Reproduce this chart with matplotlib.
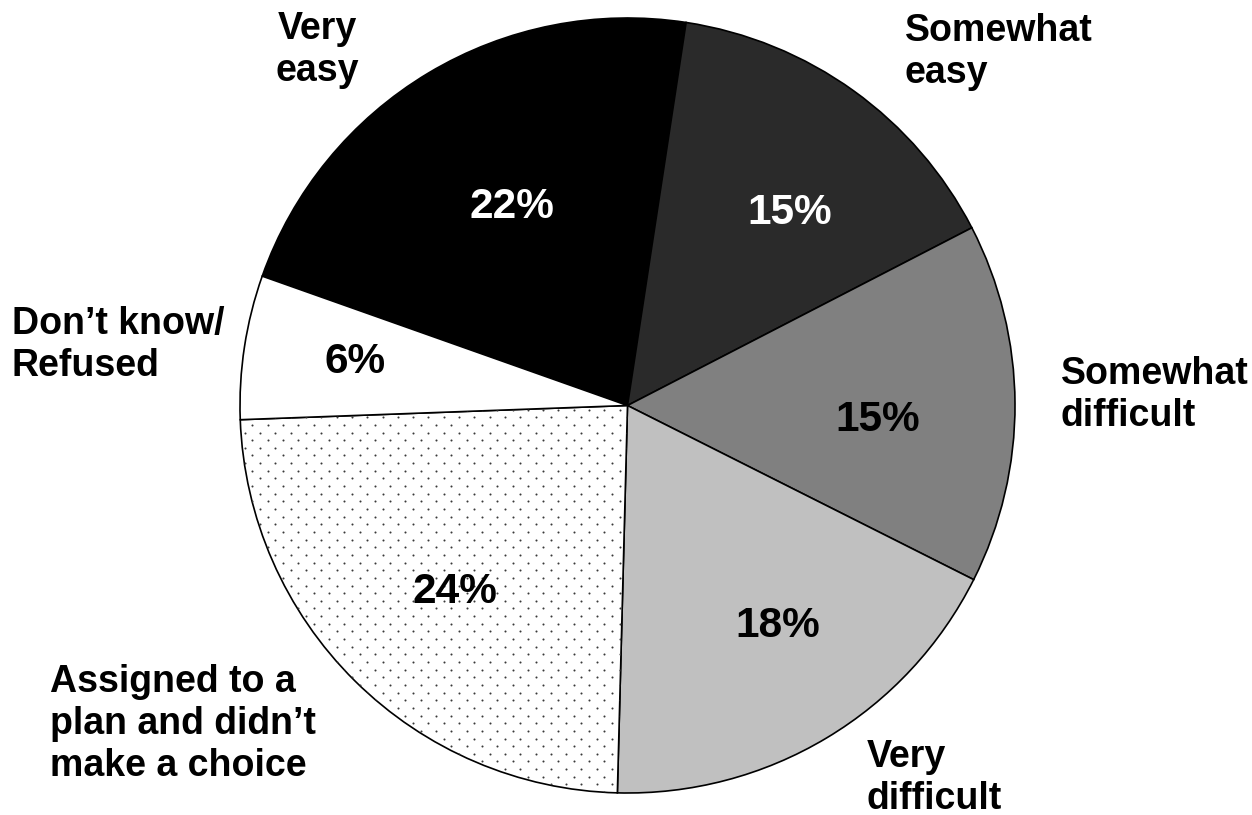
import matplotlib
matplotlib.use("Agg")
import matplotlib.pyplot as plt
import numpy as np

# values, clockwise from the "Very easy" slice
categories = ["Very\neasy", "Somewhat\neasy", "Somewhat\ndifficult", "Very\ndifficult",
              "Assigned to a\nplan and didn\u2019t\nmake a choice", "Don\u2019t know/\nRefused"]
shares = [22, 15, 15, 18, 24, 6]
pct_labels = ["22%", "15%", "15%", "18%", "24%", "6%"]

fills = ["#000000", "#2a2a2a", "#808080", "#c0c0c0", "#ffffff", "#ffffff"]
dotted = [False, False, False, False, True, False]
pct_colors = ["white", "white", "black", "black", "black", "black"]

# label placement in pixels (x, y from top), alignment
cat_pos = [(317, 50, "center"), (905, 52, "left"), (1061, 395, "left"),
           (867, 778, "left"), (50, 724, "left"), (12, 345, "left")]
pct_pos = [(512, 207), (790, 213), (878, 420), (778, 626), (455, 592), (355, 362)]

W, H = 1252, 815
plt.rcParams["font.family"] = ["Liberation Sans", "DejaVu Sans"]

fig = plt.figure(figsize=(W / 100, H / 100), dpi=100)
ax = fig.add_axes([0, 0, 1, 1])

wedges, _ = ax.pie(shares, colors=fills, startangle=160.5, counterclock=False,
                   center=(627.5, H - 405.5), radius=387.5, frame=True,
                   wedgeprops=dict(edgecolor="black", linewidth=1.2))
ax.set_xlim(0, W)
ax.set_ylim(0, H)
ax.axis("off")

# sparse dot texture (staggered grid), clipped to the wedge
step = 15.3
gx, gy = np.meshgrid(np.arange(0, W, step), np.arange(0, H, step / 2))
gx = gx + (np.arange(gy.shape[0])[:, None] % 2) * step / 2
for w, d in zip(wedges, dotted):
    if d:
        dots = ax.scatter(gx.ravel(), gy.ravel(), s=2.2, color="#3a3a3a",
                          linewidths=0, zorder=w.get_zorder() + 0.1)
        dots.set_clip_path(w)

for lab, (x, y, ha) in zip(categories, cat_pos):
    ax.text(x, H - y, lab, ha=ha, va="center", multialignment=ha,
            fontsize=27, fontweight="bold", linespacing=1.2)

for lab, (x, y), c in zip(pct_labels, pct_pos, pct_colors):
    ax.text(x, H - y, lab, ha="center", va="center", color=c,
            fontsize=30.5, fontweight="bold", zorder=5)

fig.savefig("out.png", dpi=100, facecolor="white")
